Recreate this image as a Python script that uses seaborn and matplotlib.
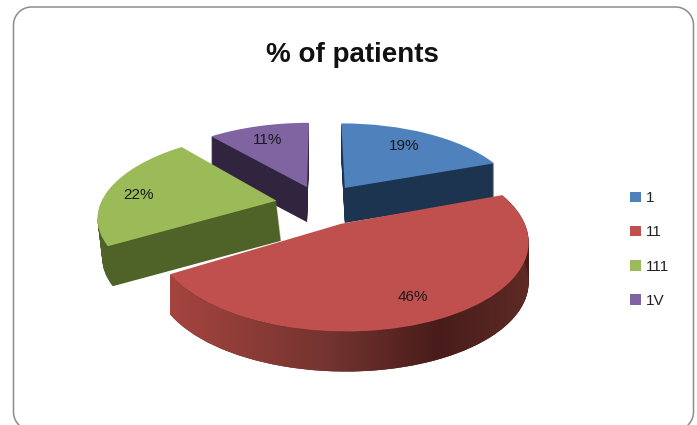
import numpy as np
import matplotlib
matplotlib.use("Agg")
import matplotlib.pyplot as plt
import seaborn as sns
from matplotlib.patches import Patch, Polygon
from matplotlib.transforms import Transform, Affine2D
from matplotlib.colors import LinearSegmentedColormap

categories = ["1", "11", "111", "1V"]
values = [19, 46, 22, 11]
value_labels = ["19%", "46%", "22%", "11%"]
title = "% of patients"

top_colors = ["#4F81BD", "#C0504D", "#9BBB59", "#8064A2"]
side_colors = ["#1D3450", "#4A1C1B", "#4F6228", "#31243F"]
explode = [0.25, 0.26, 0.255, 0.23]
depths = [35, 40, 40, 35]
lean = [0.0, 0.0, 0.12, 0.0]
label_xy = [(404, 146), (413, 297), (138, 195), (268, 140)]

CX, CY, RX, RY, K = 320.5, 204, 176, 81, 0.175

sns.set_theme(style="white")
plt.rcParams["font.family"] = ["Liberation Sans", "DejaVu Sans"]


class Persp(Transform):
    input_dims = output_dims = 2
    is_separable = False
    has_inverse = False

    def transform_non_affine(self, pts):
        pts = np.asarray(pts, float)
        w = 1 + K * pts[:, 1]
        return np.column_stack([CX + RX * pts[:, 0] / w, CY - RY * pts[:, 1] / w])


fig = plt.figure(figsize=(6.97, 4.25), dpi=100, facecolor="white")
ax = fig.add_axes([0, 0, 1, 1])
persp = Persp()
order = [1, 4, 3, 2]  # back-to-front stacking per slice


def draw_pie(colors, dy, base_z):
    wedges, _ = ax.pie(values, colors=colors, explode=explode, startangle=90,
                       counterclock=False, radius=1)
    for i, w in enumerate(wedges):
        w.set_transform(persp + Affine2D().translate(lean[i] * dy, dy) + ax.transData)
        w.set_clip_on(False)
        w.set_linewidth(0)
        w.set_zorder(order[i] * 10 + base_z)
        if dy > depths[i]:
            w.set_visible(False)
    return wedges


for dy in range(max(depths), 0, -1):
    draw_pie(side_colors, dy, 1)
tops = draw_pie(top_colors, 0, 5)

ax.set_aspect("auto")
ax.set_xlim(0, 697)
ax.set_ylim(425, 0)
ax.set_xticks([])
ax.set_yticks([])
ax.set_frame_on(False)

# shaded outer rim of the large slice
w = tops[1]
th = np.radians(np.linspace(w.theta1, w.theta2, 200))
u = w.center[0] + w.r * np.cos(th)
v = w.center[1] + w.r * np.sin(th)
arc = persp.transform_non_affine(np.column_stack([u, v]))
low = arc + [0, depths[1]]
band = Polygon(np.vstack([arc, low[::-1]]), closed=True, transform=ax.transData, fc="none", ec="none")
ax.add_patch(band)
cmap = LinearSegmentedColormap.from_list(
    "rim", [(0.0, "#A5443F"), (0.45, "#73332F"), (0.75, "#481C1A"), (1.0, "#5E2A26")])
im = ax.imshow(np.linspace(0, 1, 256)[None, :], cmap=cmap, aspect="auto",
               extent=(arc[:, 0].min(), arc[:, 0].max(), 425, 0), zorder=order[1] * 10 + 3)
im.set_clip_path(band)
ax.set_xlim(0, 697)
ax.set_ylim(425, 0)

# chart frame, cut off by the bottom edge of the picture
L, T, R_, B, r = 13.5, 7, 693.5, 430, 18
a = np.linspace(0, np.pi / 2, 30)
a_low = np.arcsin((425 - (B - r)) / r)
b = np.linspace(a_low, 0, 15)
fx = np.concatenate([L + r - r * np.cos(b), L + r - r * np.cos(a), R_ - r + r * np.sin(a),
                     R_ - r + r * np.cos(b[::-1])])
fy = np.concatenate([B - r + r * np.sin(b), T + r - r * np.sin(a), T + r - r * np.cos(a),
                     B - r + r * np.sin(b[::-1])])
ax.plot(fx, fy, color="#8C8C8C", lw=1.1, zorder=60, scalex=False, scaley=False)

ax.text(352, 55, title, ha="center", va="center", fontsize=20, fontweight="bold",
        color="#111111", zorder=70)
for xy, s in zip(label_xy, value_labels):
    ax.text(xy[0], xy[1], s, ha="center", va="center", fontsize=11, color="#1A1A1A", zorder=70)

handles = [Patch(fc=c, ec="none") for c in top_colors]
ax.legend(handles, categories, loc="center left", bbox_to_anchor=(630 / 697, 1 - 249.5 / 425),
          frameon=False, fontsize=11, handlelength=0.7, handleheight=0.7, handletextpad=0.35,
          labelspacing=1.31, labelcolor="#222222", borderpad=0, borderaxespad=0)

fig.savefig("out.png", dpi=100, facecolor="white")
